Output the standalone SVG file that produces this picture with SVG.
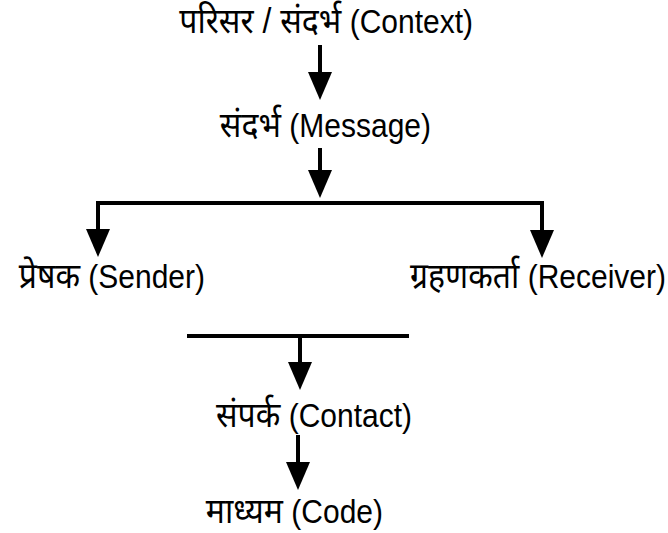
<svg xmlns="http://www.w3.org/2000/svg" width="668" height="533" viewBox="0 0 668 533">
<style>
text{font-family:"Liberation Sans","Noto Sans",Arial,sans-serif;font-size:30px;fill:#000;text-anchor:end}
.d{font-size:32px}
.c{stroke:#000;stroke-width:4;fill:none}
.h{fill:#000;stroke:none}
</style>
<defs>
<path id="ah" d="M-12,-28 L12,-28 L0,0 Z"/>
</defs>
<rect width="668" height="533" fill="#fff"/>
<g id="connectors">
<line class="c" x1="320" y1="45" x2="320" y2="76"/>
<use href="#ah" class="h" x="320" y="100"/>
<line class="c" x1="320" y1="148" x2="320" y2="175"/>
<use href="#ah" class="h" x="320" y="198"/>
<polyline class="c" points="98,232 98,203 542,203 542,232"/>
<use href="#ah" class="h" x="98" y="257"/>
<use href="#ah" class="h" x="542" y="258"/>
<line class="c" x1="187" y1="336" x2="409" y2="336"/>
<line class="c" x1="300" y1="336" x2="300" y2="366"/>
<use href="#ah" class="h" x="300" y="390"/>
<line class="c" x1="298" y1="435" x2="298" y2="466"/>
<use href="#ah" class="h" x="298" y="490"/>
</g>
<g id="context"><text transform="translate(473,33) scale(1,1.12)"><tspan class="d">परिसर / संदर्भ</tspan> (Context)</text></g>
<g id="message"><text transform="translate(431,137) scale(1,1.12)"><tspan class="d">संदर्भ</tspan> (Message)</text></g>
<g id="sender"><text transform="translate(205,288) scale(1,1.12)"><tspan class="d">प्रेषक</tspan> (Sender)</text></g>
<g id="receiver"><text transform="translate(666,288) scale(1,1.12)"><tspan class="d">ग्रहणकर्ता</tspan> (Receiver)</text></g>
<g id="contact"><text transform="translate(412,427) scale(1,1.12)"><tspan class="d">संपर्क</tspan> (Contact)</text></g>
<g id="code"><text transform="translate(383,523) scale(1,1.12)"><tspan class="d">माध्यम</tspan> (Code)</text></g>
</svg>
